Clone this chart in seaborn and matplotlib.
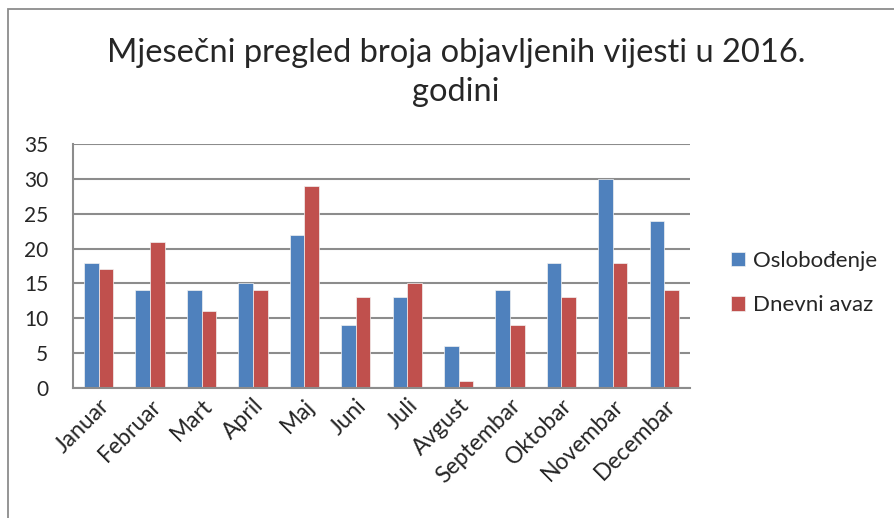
import pandas as pd
import matplotlib.pyplot as plt
import seaborn as sns
from matplotlib.patches import Rectangle

# Data
months = ["Januar", "Februar", "Mart", "April", "Maj", "Juni", "Juli",
          "Avgust", "Septembar", "Oktobar", "Novembar", "Decembar"]
oslobodjenje = [18, 14, 14, 15, 22, 9, 13, 6, 14, 18, 30, 24]
dnevni_avaz = [17, 21, 11, 14, 29, 13, 15, 1, 9, 13, 18, 14]

df = pd.DataFrame({
    "Mjesec": months * 2,
    "Broj": oslobodjenje + dnevni_avaz,
    "Novine": ["Oslobođenje"] * 12 + ["Dnevni avaz"] * 12,
})

sns.set_style("white")
plt.rcParams["font.family"] = ["Lato", "DejaVu Sans"]

fig = plt.figure(figsize=(8.94, 5.18), dpi=100)
ax = fig.add_axes([0.0817, 0.251, 0.690, 0.471])

sns.barplot(data=df, x="Mjesec", y="Broj", hue="Novine",
            palette=["#4F81BD", "#C0504D"], saturation=1, width=0.57, ax=ax,
            edgecolor="#f2f2f2", linewidth=0.5, legend=True)

ax.set_ylim(0, 35)
ax.set_yticks(range(0, 36, 5))
ax.set_xlim(-0.5, 11.5)
ax.grid(axis="y", color="#8c8c8c", linewidth=1.5)
ax.set_axisbelow(True)
for s in ["top", "right"]:
    ax.spines[s].set_visible(False)
for s in ["left", "bottom"]:
    ax.spines[s].set_color("#8c8c8c")
    ax.spines[s].set_linewidth(1.5)
ax.tick_params(axis="y", length=0, labelsize=15, pad=18)
ax.tick_params(axis="x", length=0, labelsize=16.5, pad=5)
ax.set_xlabel("")
ax.set_ylabel("")
plt.setp(ax.get_xticklabels(), rotation=45, ha="right", rotation_mode="anchor")

fig.text(0.51, 0.86, "Mjesečni pregled broja objavljenih vijesti u 2016.\ngodini",
         ha="center", va="center", fontsize=23.5, linespacing=1.4)

ax.legend(loc="center left", bbox_to_anchor=(1.035, 0.43), frameon=False,
          fontsize=16, handlelength=0.6, handleheight=0.6,
          labelspacing=1.1, handletextpad=0.35)

# outer chart frame (only top and left edges visible)
fig.patches.append(Rectangle((8 / 894, -0.05), 1.1, 1 - 9 / 518 + 0.05,
                             transform=fig.transFigure, fill=False,
                             edgecolor="#8c8c8c", linewidth=1.3))

fig.savefig("out.png", dpi=100)
